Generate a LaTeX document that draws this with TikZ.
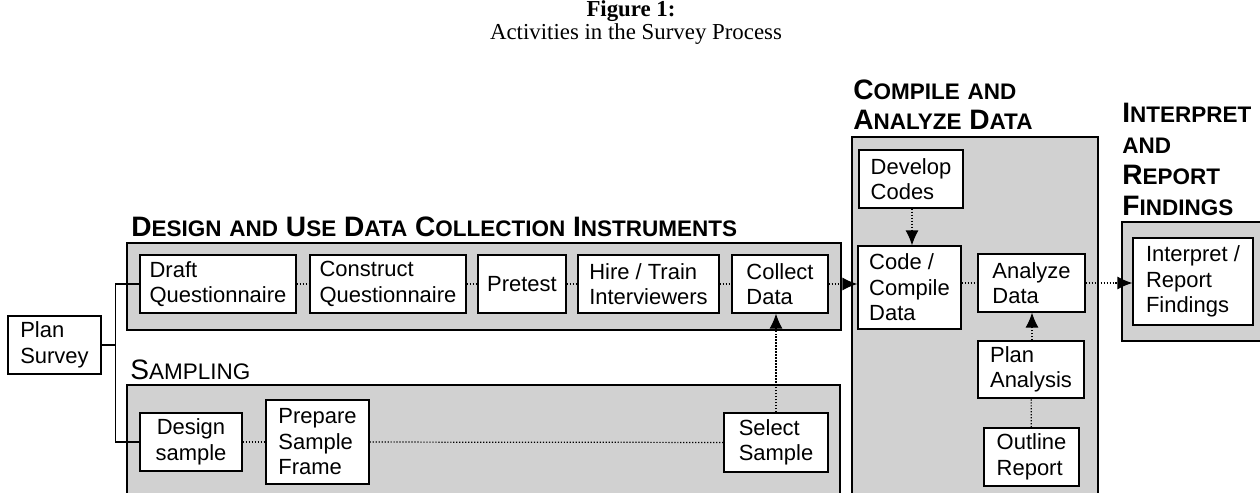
\documentclass[tikz,border=0pt]{standalone}
\usepackage{fontspec}
\setmainfont{Liberation Serif}
\newfontfamily\arial{Liberation Sans}
\usetikzlibrary{arrows.meta}
\newcommand{\hdcap}[2]{{\fontsize{16}{18}\selectfont #1}{\fontsize{12.8}{18}\selectfont #2}}

\tikzset{
  panel/.style={draw=black, line width=0.6pt, fill=black!18},
  act/.style={draw, line width=0.7pt, fill=white, align=left, inner sep=2pt,
    font=\arial\fontsize{12.5}{14.5}\selectfont},
  head/.style={anchor=base west, inner sep=0pt, align=left,
    font=\arial\bfseries\fontsize{16}{17.6}\selectfont},
  dotline/.style={densely dotted, line width=0.7pt},
  tip/.style={-{Latex[length=3mm,width=2.6mm]}}
}

\begin{document}
\begin{tikzpicture}[x=0.02cm,y=-0.02cm]
  \useasboundingbox (0,0) rectangle (1260,493);

  % title
  \node (fig) [anchor=base, font=\bfseries\fontsize{13}{15}\selectfont] at (631,17) {Figure 1:};
  \node (sub) [anchor=base, font=\fontsize{13}{15}\selectfont] at (636,40) {Activities in the Survey Process};

  % shaded panels (open where they run off the page)
  \draw[panel] (127,243) rectangle (841,330);
  \draw[panel] (127,493) |- (840,385) -- (840,493);
  \draw[panel] (852,493) |- (1098,137) -- (1098,493);
  \draw[panel] (1260,222) -| (1122,341) -- (1260,341);

  % panel headings (base = last line)
  \node (hdesign) [head] at (131,236) {\hdcap{D}{ESIGN} \hdcap{}{AND} \hdcap{U}{SE} \hdcap{D}{ATA} \hdcap{C}{OLLECTION} \hdcap{I}{NSTRUMENTS}};
  \node (hsampling) [head, font=\arial\fontsize{16}{18}\selectfont] at (130,379) {\hdcap{S}{AMPLING}};
  \node (hcompile) [head] at (853,130) {\hdcap{C}{OMPILE} \hdcap{}{AND}\\\hdcap{A}{NALYZE} \hdcap{D}{ATA}};
  \node (hinterp) [head] at (1122,215) {\hdcap{I}{NTERPRET}\\\hdcap{}{AND}\\\hdcap{R}{EPORT}\\\hdcap{F}{INDINGS}};

  % activities
  \node (plan)      [act, minimum width=1.86cm, minimum height=1.16cm] at (54.5,345)  {Plan\\Survey};
  \node (draft)     [act, minimum width=3.12cm, minimum height=1.16cm] at (218,284)   {Draft\\Questionnaire};
  \node (construct) [act, minimum width=3.12cm, minimum height=1.16cm] at (388,284)   {Construct\\Questionnaire};
  \node (pretest)   [act, minimum width=1.76cm, minimum height=1.16cm] at (522,284)   {Pretest};
  \node (hire)      [act, minimum width=2.82cm, minimum height=1.16cm] at (648.5,284) {Hire / Train\\Interviewers};
  \node (collect)   [act, minimum width=1.92cm, minimum height=1.16cm] at (780,284)   {Collect\\Data};
  \node (dsample)   [act, minimum width=2.04cm, minimum height=1.16cm, align=center] at (191,442) {Design\\sample};
  \node (frame)     [act, minimum width=2.06cm, minimum height=1.68cm] at (317.5,442) {Prepare\\Sample\\Frame};
  \node (select)    [act, minimum width=2.08cm, minimum height=1.18cm] at (776,442.5) {Select\\Sample};
  \node (codes)     [act, minimum width=2.08cm, minimum height=1.16cm] at (911,179)   {Develop\\Codes};
  \node (compile)   [act, minimum width=2.06cm, minimum height=1.66cm] at (909.5,287.5) {Code /\\Compile\\Data};
  \node (analyze)   [act, minimum width=2.14cm, minimum height=1.16cm] at (1031.5,283) {Analyze\\Data};
  \node (plananal)  [act, minimum width=2.12cm, minimum height=1.14cm] at (1031,369.5) {Plan\\Analysis};
  \node (outline)   [act, minimum width=1.90cm, minimum height=1.16cm] at (1031.5,457) {Outline\\Report};
  \node (report)    [act, minimum width=2.40cm, minimum height=1.74cm] at (1193,281.5) {Interpret /\\Report\\Findings};

  % plan survey fork
  \draw[line width=0.6pt] (plan.east) -- ++(14,0) coordinate (fork);
  \draw[line width=0.6pt] (draft.west) -| (fork) |- (dsample.west);

  % dotted chains
  \foreach \a/\b in {draft/construct, construct/pretest, pretest/hire, hire/collect, dsample/frame, frame/select}
    \draw[dotline] (\a) -- (\b);
  \draw[dotline] (compile.east |- analyze) -- (analyze);
  \draw[dotline] (outline) -- (plananal);

  % arrows
  \draw[dotline, tip] (collect.east) -- (compile.west |- collect.east);
  \draw[dotline, tip] (select.north) -- (select.north |- collect.south);
  \draw[dotline, tip] (codes.south -| 912,0) -- (compile.north -| 912,0);
  \draw[dotline, tip] (plananal.north -| 1032,0) -- (analyze.south -| 1032,0);
  \draw[dotline, tip] (analyze.east) -- (report.west |- analyze.east);
\end{tikzpicture}
\end{document}
